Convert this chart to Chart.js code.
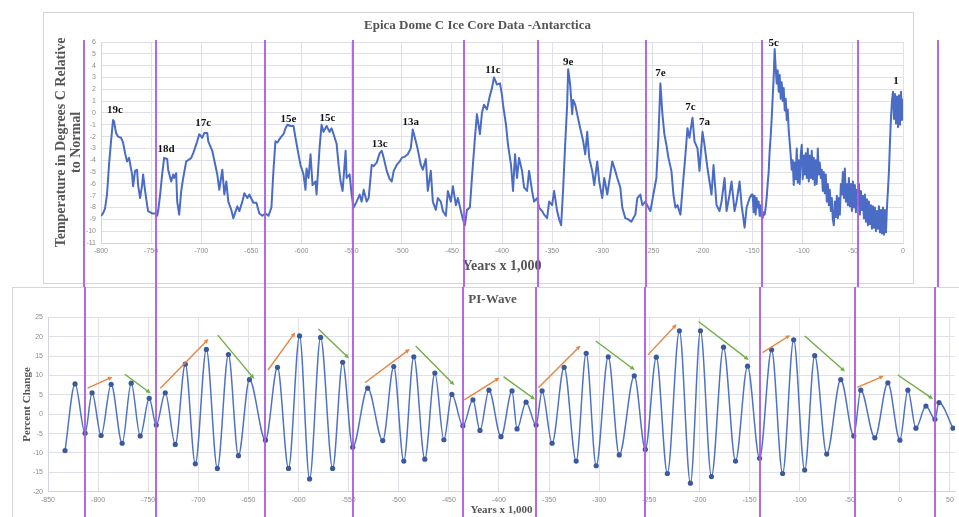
<!DOCTYPE html>
<html><head><meta charset="utf-8">
<script src="https://cdn.jsdelivr.net/npm/chart.js@4/dist/chart.umd.min.js"></script>
<style>
html,body{margin:0;padding:0;background:#fff;}
#wrap{position:relative;width:959px;height:517px;overflow:hidden;background:#fff;}
.pane{position:absolute;left:0;width:959px;}
</style></head><body>
<div id="wrap">
<div class="pane" style="top:0;height:287px"><canvas id="c1" width="959" height="287"></canvas></div>
<div class="pane" style="top:287px;height:230px"><canvas id="c2" width="959" height="230"></canvas></div>
</div>
<script>
// ---------- Top chart: EPICA Dome C temperature ----------
const topTitle = 'Epica Dome C Ice Core Data -Antarctica';
const topYears = [
-800,-798,-796,-794,-792,-790,-788,-787,-785,-783,-780,-778,-776,-774,-772,-769,-768,-766,-764,-763,-761,-759,-758,-756,-754,-753,-749,-746,-744,-743,-741,-739,-737,-734,-733,-730,-728,-727,-725,-724,-722,-720,-718,-715,-713,-710,-708,-704,-702,-699,-697,-694,-693,-689,-686,-684,-682,-679,-677,-675,-673,-670,-668,-664,-662,-659,-657,-654,-652,-648,-645,-642,-639,-636,-633,-630,-628,-626,-624,-621,-618,-616,-614,-611,-608,-606,-603,-601,-598,-596,-595,-593,-591,-589,-586,-585,-582,-580,-578,-575,-572,-570,-568,-565,-563,-561,-559,-556,-555,-552,-550,-548,-545,-542,-540,-538,-535,-533,-530,-528,-525,-522,-520,-518,-515,-512,-510,-508,-505,-502,-500,-497,-494,-491,-489,-486,-484,-481,-479,-476,-474,-471,-469,-466,-464,-461,-459,-456,-454,-451,-449,-446,-444,-441,-439,-437,-435,-432,-430,-427,-425,-422,-420,-418,-415,-412,-410,-408,-405,-402,-400,-399,-396,-394,-391,-389,-387,-385,-383,-380,-378,-375,-373,-370,-368,-365,-363,-360,-358,-355,-353,-350,-348,-345,-343,-341,-339,-337,-335,-334,-332,-330,-329,-327,-325,-322,-319,-317,-315,-313,-310,-308,-305,-303,-300,-298,-295,-293,-290,-287,-285,-282,-280,-277,-274,-271,-267,-265,-262,-260,-257,-254,-252,-249,-246,-244,-242,-240,-238,-236,-234,-231,-229,-227,-225,-222,-219,-217,-215,-213,-210,-208,-205,-203,-200,-198,-195,-193,-191,-189,-186,-183,-181,-178,-176,-173,-171,-168,-166,-163,-161,-158,-156,-153,-151,
-150,-149,-148,-147,-146,-145,-144,-143,-142,-141,-140,-139,-138,-137,-136,-135,-134,-133,-132,-131,-130,-129,-128,-127,-126,-125,-124,-123,-122,-121,-120,-119,-118,-117,-116,-115,-114,-113,-112,-111,-110,-109,-108,-107,-106,-105,-104,-103,-102,-101,-100,-99,-98,-97,-96,-95,-94,-93,-92,-91,-90,-89,-88,-87,-86,-85,-84,-83,-82,-81,-80,-79,-78,-77,-76,-75,-74,-73,-72,-71,-70,-69,-68,-67,-66,-65,-64,-63,-62,-61,-60,-59,-58,-57,-56,-55,-54,-53,-52,-51,-50,-49,-48,-47,-46,-45,-44,-43,-42,-41,-40,-39,-38,-37,-36,-35,-34,-33,-32,-31,-30,-29,-28,-27,-26,-25,-24,-23,-22,-21,-20,-19,-18,-17,-16,-15,-14,-13,-12,-11,-10,-9,-8,-7,-6,-5,-4,-3,-2,-1,0];
const topTemps = [
-8.7,-8.5,-8.1,-6.9,-4.4,-2.4,-0.6,-0.7,-1.7,-2.0,-2.1,-2.5,-3.4,-4.1,-3.8,-5.2,-6.2,-4.9,-4.8,-6.1,-7.2,-6.1,-5.2,-6.6,-7.8,-8.3,-8.5,-8.5,-8.7,-8.3,-6.9,-5.2,-3.8,-3.9,-4.8,-5.8,-5.2,-5.5,-5.1,-7.5,-8.6,-6.6,-5.5,-4.1,-4.0,-3.8,-3.4,-2.4,-1.8,-2.1,-1.7,-1.7,-2.4,-3.2,-4.4,-5.2,-6.5,-4.8,-6.9,-5.8,-7.5,-8.2,-8.9,-7.9,-8.3,-7.5,-6.8,-7.2,-6.9,-7.6,-7.6,-8.5,-8.7,-8.5,-8.7,-8.0,-4.9,-2.4,-2.5,-2.1,-1.8,-1.3,-1.0,-1.1,-1.1,-2.1,-3.5,-4.4,-5.2,-6.5,-4.7,-5.5,-3.5,-6.1,-5.8,-6.9,-3.0,-1.0,-1.6,-1.1,-1.6,-1.3,-1.8,-2.6,-4.4,-5.8,-6.6,-3.2,-5.5,-5.2,-6.9,-8.0,-7.5,-6.9,-7.5,-6.5,-7.5,-7.2,-4.4,-4.5,-4.2,-3.4,-3.2,-3.8,-4.9,-5.6,-5.8,-4.9,-4.4,-4.1,-3.8,-3.7,-3.5,-3.0,-1.4,-2.4,-3.1,-4.4,-4.8,-3.9,-6.6,-4.9,-7.5,-8.2,-7.2,-7.5,-8.3,-8.7,-6.6,-7.5,-6.2,-7.8,-7.2,-8.3,-9.0,-9.5,-8.2,-8.0,-5.5,-2.1,-0.1,-1.8,0.0,0.7,0.3,1.5,2.1,3.0,2.4,2.5,1.5,0.7,-1.0,-2.7,-4.4,-6.6,-3.5,-5.5,-3.8,-4.9,-6.3,-6.6,-4.9,-6.6,-7.5,-7.2,-8.0,-8.3,-8.6,-8.9,-7.5,-7.8,-6.6,-8.3,-9.0,-9.5,-6.4,-2.7,0.7,3.7,2.4,-0.1,1.1,0.7,-0.1,-1.3,-2.4,-3.5,-1.6,-3.8,-4.9,-6.1,-4.1,-5.8,-7.2,-5.5,-6.9,-5.8,-4.1,-4.9,-5.5,-6.3,-8.0,-8.9,-9.0,-9.2,-8.6,-7.2,-6.9,-7.8,-7.5,-8.0,-8.3,-6.9,-5.5,-2.1,2.5,-0.1,-1.8,-2.7,-3.8,-4.9,-6.9,-8.0,-7.8,-8.6,-5.5,-3.5,-1.3,-2.1,-0.4,-2.4,-3.0,-4.9,-1.6,-2.7,-4.7,-5.8,-6.9,-4.4,-7.8,-8.3,-7.5,-5.5,-8.3,-6.9,-5.8,-8.3,-7.5,-5.8,-7.8,-9.7,-8.0,-7.2,-6.9,
-6.9,-8.4,-7.0,-8.6,-7.2,-8.0,-7.5,-8.7,-7.8,-8.8,-8.9,-8.4,-8.6,-8.0,-7.2,-6.0,-5.0,-3.2,-2.0,-0.5,1.3,3.0,5.4,3.8,2.5,3.6,1.8,3.2,1.2,2.6,1.0,2.1,0.2,1.2,-0.6,0.3,-1.5,-2.5,-3.6,-4.8,-4.0,-6.1,-4.2,-5.6,-3.0,-5.9,-4.0,-6.0,-3.5,-2.7,-5.6,-3.6,-5.2,-3.4,-5.5,-3.0,-5.8,-3.6,-5.5,-3.2,-5.6,-3.8,-6.1,-4.0,-6.0,-3.0,-5.2,-4.2,-5.5,-4.8,-6.6,-5.0,-6.8,-5.2,-7.5,-6.0,-7.8,-6.5,-8.3,-7.2,-9.0,-9.5,-7.5,-8.8,-7.0,-8.9,-7.2,-8.6,-6.0,-6.9,-5.0,-7.2,-4.7,-7.5,-6.0,-7.8,-5.5,-7.9,-6.0,-8.3,-5.8,-8.0,-6.1,-8.4,-6.5,-7.8,-6.0,-8.6,-6.6,-8.2,-7.0,-8.9,-6.9,-9.2,-7.3,-9.5,-7.5,-9.4,-7.8,-9.8,-7.9,-9.7,-8.0,-10.0,-8.3,-9.8,-7.9,-10.1,-8.2,-10.2,-8.0,-10.3,-8.2,-10.1,-8.0,-6.5,-4.9,-2.5,-0.4,1.0,1.8,-0.5,1.6,-0.9,1.4,-1.2,1.5,-1.0,1.8,-0.6,1.2];
const topMarkerYears = [-817,-745,-636,-549,-438,-364,-256,-141,-45,35];
const peakLabels = ['19c','18d','17c','15e','15c','13c','13a','11c','9e','7e','7c','7a','5c','1'];
const peakLabelYears = [-786,-735,-698,-613,-574,-522,-491,-409,-334,-242,-212,-198,-129,-7];
const peakLabelTemps = [0.25,-3.1,-0.9,-0.5,-0.45,-2.6,-0.8,3.6,4.3,3.4,0.45,-0.8,5.9,2.7];

// ---------- Bottom chart: PI-Wave ----------
const waveTitle = 'PI-Wave';
const waveYears = [-833,-823,-813,-806,-797,-787,-776,-767,-758,-749,-742,-733,-723,-713,-703,-692,-681,-670,-660,-649,-633,-621,-610,-599,-589,-578,-566,-556,-546,-531,-516,-505,-495,-485,-474,-464,-455,-447,-436,-426,-419,-410,-398,-387,-382,-373,-363,-357,-347,-335,-323,-313,-303,-291,-280,-265,-254,-243,-232,-220,-209,-199,-188,-176,-164,-152,-140,-128,-117,-106,-95,-85,-73,-59,-46,-39,-25,-12,0,8,16,26,35,39,53];
const waveValues = [-9.4,7.8,-4.9,5.5,-5.5,7.7,-7.5,8.0,-5.6,4.1,-2.8,5.5,-7.8,12.9,-12.8,16.7,-14.0,15.4,-10.7,8.9,-6.7,12.1,-14.0,20.2,-16.7,19.8,-14.0,13.4,-8.5,6.7,-6.8,12.3,-12.1,14.8,-11.6,10.6,-6.6,5.1,-3.0,3.7,-4.2,6.2,-5.8,6.0,-3.8,3.1,-2.8,6.0,-7.5,12.1,-12.1,15.7,-13.3,14.8,-10.5,9.9,-9.1,14.7,-15.3,21.5,-17.8,21.5,-16.1,17.3,-12.1,12.4,-11.4,16.6,-15.3,19.2,-14.4,15.1,-10.3,8.9,-5.6,6.2,-6.1,8.1,-6.7,6.2,-3.6,2.1,-1.3,3.0,-3.6];
const waveMarkerYears = [-813,-742,-633,-546,-436,-363,-254,-140,-45,35];
const arrowKind   = ['up','down','up','down','up','down','up','down','up','down','up','down','up','down','up','down','up','down'];
const arrowFromX  = [-810.5,-773.4,-737.9,-680.6,-630.5,-580.2,-533.8,-483.1,-434.6,-395.5,-360.7,-303.4,-251.4,-200.9,-137.0,-94.9,-42.5,-2.0];
const arrowFromY  = [6.7,10.3,6.7,20.4,11.4,22.0,8.1,17.6,3.7,9.7,6.8,18.9,15.3,23.9,15.9,20.2,6.9,10.1];
const arrowToX    = [-785.7,-747.6,-689.9,-644.2,-603.4,-549.7,-489.0,-444.6,-399.5,-364.0,-318.7,-264.6,-222.8,-150.9,-109.5,-54.8,-16.0,33.1];
const arrowToY    = [9.6,5.4,19.4,9.1,21.1,14.4,16.8,7.5,9.4,3.8,17.7,11.4,23.2,14.0,20.4,11.0,9.9,3.9];

// ---------- styles ----------
const PURPLE = 'rgba(172,92,222,0.92)';
const GRID = '#e0e0e8';
const TICK = '#8c8c8c';
const TITLE = '#555555';
const serif = 'Liberation Serif';

function framePlugin(rect) {
  return { id: 'frame', beforeDraw(chart) {
    const c = chart.ctx; c.save();
    c.fillStyle = '#fff'; c.fillRect(0, 0, chart.width, chart.height);
    c.strokeStyle = '#d6d6d6'; c.lineWidth = 1;
    c.strokeRect(rect[0] + 0.5, rect[1] + 0.5, rect[2], rect[3]);
    c.restore();
  }};
}
function markerPlugin(years, fromTop) {
  return { id: 'markers', afterDatasetsDraw(chart) {
    const c = chart.ctx, xs = chart.scales.x;
    const y0 = fromTop ? 0 : chart.chartArea.top - 2;
    c.save(); c.strokeStyle = PURPLE; c.lineWidth = 2;
    years.forEach(v => {
      const px = Math.round(xs.getPixelForValue(v));
      c.beginPath(); c.moveTo(px, y0); c.lineTo(px, chart.height); c.stroke();
    });
    c.restore();
  }};
}
const peakLabelPlugin = { id: 'peakLabels', afterDraw(chart) {
  const c = chart.ctx, xs = chart.scales.x, ys = chart.scales.y;
  c.save(); c.fillStyle = '#111'; c.font = 'bold 11px "' + serif + '"';
  c.textAlign = 'center'; c.textBaseline = 'middle';
  peakLabels.forEach((t, i) => c.fillText(t, xs.getPixelForValue(peakLabelYears[i]), ys.getPixelForValue(peakLabelTemps[i])));
  c.restore();
}};
const arrowPlugin = { id: 'arrows', afterDatasetsDraw(chart) {
  const c = chart.ctx, xs = chart.scales.x, ys = chart.scales.y;
  c.save(); c.lineWidth = 1.4;
  arrowKind.forEach((k, i) => {
    const col = k === 'up' ? '#e8843e' : '#6fae45';
    const x1 = xs.getPixelForValue(arrowFromX[i]), y1 = ys.getPixelForValue(arrowFromY[i]);
    const x2 = xs.getPixelForValue(arrowToX[i]), y2 = ys.getPixelForValue(arrowToY[i]);
    const a = Math.atan2(y2 - y1, x2 - x1), h = 5;
    c.strokeStyle = col; c.fillStyle = col;
    c.beginPath(); c.moveTo(x1, y1); c.lineTo(x2 - Math.cos(a) * 3, y2 - Math.sin(a) * 3); c.stroke();
    c.beginPath(); c.moveTo(x2, y2);
    c.lineTo(x2 - h * Math.cos(a - 0.45), y2 - h * Math.sin(a - 0.45));
    c.lineTo(x2 - h * Math.cos(a + 0.45), y2 - h * Math.sin(a + 0.45));
    c.closePath(); c.fill();
  });
  c.restore();
}};

const tickFont = { family: 'Liberation Sans', size: 7 };

new Chart(document.getElementById('c1'), {
  type: 'line',
  data: { datasets: [{
    data: topYears.map((x, i) => ({ x, y: topTemps[i] })),
    borderColor: '#4a6cc4', borderWidth: 2, pointRadius: 0, tension: 0, fill: false,
    borderJoinStyle: 'round'
  }]},
  options: {
    responsive: false, animation: false, devicePixelRatio: 1,
    layout: { padding: { left: 52, right: 56, top: 0, bottom: 0 } },
    plugins: {
      legend: { display: false }, tooltip: { enabled: false },
      title: { display: true, text: topTitle, color: TITLE,
        font: { family: serif, size: 13, weight: 'bold', lineHeight: 1.2 },
        padding: { top: 18, bottom: 8.4 } }
    },
    scales: {
      x: { type: 'linear', min: -800, max: 0,
        ticks: { stepSize: 50, color: TICK, font: tickFont, padding: 4, maxRotation: 0, autoSkip: false },
        grid: { color: GRID, drawTicks: false }, border: { color: '#d4d4dc' },
        title: { display: true, text: 'Years x 1,000', color: TITLE,
          font: { family: serif, size: 14, weight: 'bold', lineHeight: 1.1 }, padding: { top: 0, bottom: 12.6 } },
        afterFit(s) { s.height = 44; } },
      y: { type: 'linear', min: -11, max: 6,
        ticks: { stepSize: 1, color: TICK, font: tickFont, padding: 5, autoSkip: false },
        grid: { color: GRID, drawTicks: false }, border: { color: '#d4d4dc' },
        title: { display: true, text: ['Temperature in Degrees C Relative', 'to Normal'], color: TITLE,
          font: { family: serif, size: 14, weight: 'bold', lineHeight: 1.1 }, padding: { top: 1.3, bottom: 0 } },
        afterFit(s) { s.width = 49; } }
    }
  },
  plugins: [framePlugin([43, 12, 870, 271]), markerPlugin(topMarkerYears, false), peakLabelPlugin]
});

new Chart(document.getElementById('c2'), {
  type: 'line',
  data: { datasets: [{
    data: waveYears.map((x, i) => ({ x, y: waveValues[i] })),
    borderColor: '#4f72c4', borderWidth: 1.5, cubicInterpolationMode: 'monotone',
    pointRadius: 2.6, pointBackgroundColor: '#3b5a9c', pointBorderColor: '#3b5a9c', pointBorderWidth: 0,
    fill: false
  }]},
  options: {
    responsive: false, animation: false, devicePixelRatio: 1,
    layout: { padding: { left: 27, right: 1, top: 0, bottom: 0 } },
    plugins: {
      legend: { display: false }, tooltip: { enabled: false },
      title: { display: true, text: waveTitle, color: TITLE,
        font: { family: serif, size: 13, weight: 'bold', lineHeight: 1.2 },
        padding: { top: 5.2, bottom: 9.5 } }
    },
    scales: {
      x: { type: 'linear', min: -850, max: 55,
        ticks: { stepSize: 50, includeBounds: false, color: TICK, font: tickFont, padding: 4, maxRotation: 0, autoSkip: false },
        grid: { color: GRID, drawTicks: false }, border: { color: '#d4d4dc' },
        title: { display: true, text: 'Years x 1,000', color: TITLE,
          font: { family: serif, size: 11, weight: 'bold', lineHeight: 1.2 }, padding: { top: 0, bottom: 0 } },
        afterFit(s) { s.height = 25.3; } },
      y: { type: 'linear', min: -20, max: 25,
        ticks: { stepSize: 5, color: TICK, font: tickFont, padding: 5, autoSkip: false },
        grid: { color: GRID, drawTicks: false }, border: { color: '#d4d4dc' },
        title: { display: true, text: 'Percent Change', color: TITLE,
          font: { family: serif, size: 11, weight: 'bold', lineHeight: 1.2 }, padding: { top: -6, bottom: 0 } },
        afterFit(s) { s.width = 21; } }
    }
  },
  plugins: [framePlugin([12, 0, 960, 240]), markerPlugin(waveMarkerYears, true), arrowPlugin]
});
</script>
</body></html>
